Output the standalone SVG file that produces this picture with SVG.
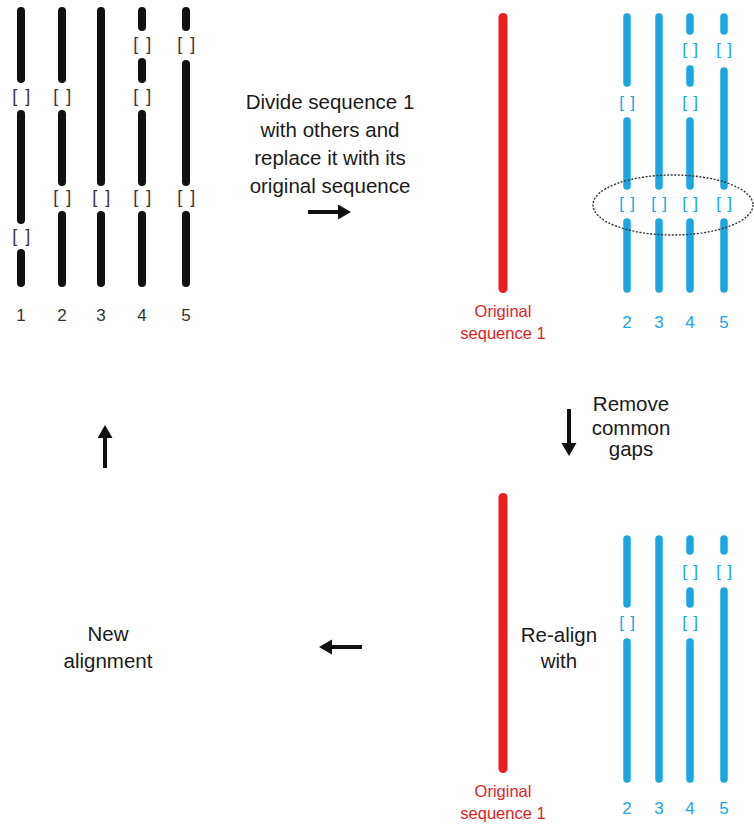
<svg xmlns="http://www.w3.org/2000/svg" width="754" height="828" viewBox="0 0 754 828">
  <style>
    .blk { stroke: #111; stroke-width: 8; stroke-linecap: round; fill: none; }
    .blu { stroke: #1ba6e1; stroke-width: 7.5; stroke-linecap: round; fill: none; }
    .red { stroke: #ee1c1c; stroke-width: 9; stroke-linecap: round; fill: none; }
    .gapk { font-family: "Liberation Sans", Arial, sans-serif; font-size: 18px; fill: #3a3a3a; text-anchor: middle; letter-spacing: 1.5px; }
    .gapb { font-family: "Liberation Sans", Arial, sans-serif; font-size: 17px; fill: #1ba6e1; text-anchor: middle; letter-spacing: 0.8px; }
    .numk { font-family: "Liberation Sans", Arial, sans-serif; font-size: 17px; fill: #333; text-anchor: middle; }
    .numb { font-family: "Liberation Sans", Arial, sans-serif; font-size: 17px; fill: #1ba6e1; text-anchor: middle; }
    .redt { font-family: "Liberation Sans", Arial, sans-serif; font-size: 16.5px; fill: #e41e1e; text-anchor: middle; }
    .lbl { font-family: "Liberation Sans", Arial, sans-serif; font-size: 20.5px; fill: #1a1a1a; text-anchor: middle; }
    .arr { stroke: #111; stroke-width: 4; fill: none; marker-end: url(#head); }
  </style>
  <defs>
    <marker id="head" markerUnits="userSpaceOnUse" markerWidth="14" markerHeight="16" refX="0" refY="7.5" orient="auto">
      <path d="M0,0 L13,7.5 L0,15 Z" fill="#111"/>
    </marker>
  </defs>
  <rect width="754" height="828" fill="#fff"/>

  <!-- initial alignment: five black sequences with gaps -->
  <g id="alignment-initial">
    <line class="blk" x1="21" y1="11" x2="21" y2="79"/>
    <line class="blk" x1="21" y1="114" x2="21" y2="220"/>
    <line class="blk" x1="21" y1="253" x2="21" y2="283"/>
    <text class="gapk" x="22" y="102">[ ]</text>
    <text class="gapk" x="22" y="242">[ ]</text>

    <line class="blk" x1="62" y1="11" x2="62" y2="79"/>
    <line class="blk" x1="62" y1="114" x2="62" y2="182"/>
    <line class="blk" x1="62" y1="215" x2="62" y2="283"/>
    <text class="gapk" x="63" y="102">[ ]</text>
    <text class="gapk" x="63" y="203">[ ]</text>

    <line class="blk" x1="101" y1="11" x2="101" y2="182"/>
    <line class="blk" x1="101" y1="215" x2="101" y2="283"/>
    <text class="gapk" x="102" y="203">[ ]</text>

    <line class="blk" x1="142" y1="11" x2="142" y2="27"/>
    <line class="blk" x1="142" y1="62" x2="142" y2="79"/>
    <line class="blk" x1="142" y1="114" x2="142" y2="182"/>
    <line class="blk" x1="142" y1="215" x2="142" y2="283"/>
    <text class="gapk" x="143" y="50">[ ]</text>
    <text class="gapk" x="143" y="102">[ ]</text>
    <text class="gapk" x="143" y="203">[ ]</text>

    <line class="blk" x1="186" y1="11" x2="186" y2="27"/>
    <line class="blk" x1="186" y1="64" x2="186" y2="182"/>
    <line class="blk" x1="186" y1="215" x2="186" y2="283"/>
    <text class="gapk" x="187" y="50">[ ]</text>
    <text class="gapk" x="187" y="203">[ ]</text>

    <text class="numk" x="21" y="321">1</text>
    <text class="numk" x="62" y="321">2</text>
    <text class="numk" x="101" y="321">3</text>
    <text class="numk" x="142" y="321">4</text>
    <text class="numk" x="186" y="321">5</text>
  </g>

  <!-- step 1 label -->
  <g id="label-divide">
    <text class="lbl" x="330" y="109">Divide sequence 1</text>
    <text class="lbl" x="330" y="137">with others and</text>
    <text class="lbl" x="330" y="165">replace it with its</text>
    <text class="lbl" x="330" y="193">original sequence</text>
  </g>

  <!-- divided alignment: original sequence 1 plus sequences 2-5 -->
  <g id="alignment-divided">
    <line class="red" x1="503" y1="17.5" x2="503" y2="288.5"/>
    <text class="redt" x="503" y="317">Original</text>
    <text class="redt" x="503" y="339">sequence 1</text>

    <line class="blu" x1="627" y1="17" x2="627" y2="83"/>
    <line class="blu" x1="627" y1="121" x2="627" y2="186"/>
    <line class="blu" x1="627" y1="222" x2="627" y2="289"/>
    <text class="gapb" x="627.5" y="108">[ ]</text>
    <text class="gapb" x="627.5" y="209">[ ]</text>

    <line class="blu" x1="659" y1="17" x2="659" y2="186"/>
    <line class="blu" x1="659" y1="222" x2="659" y2="289"/>
    <text class="gapb" x="659.5" y="209">[ ]</text>

    <line class="blu" x1="690" y1="17" x2="690" y2="31"/>
    <line class="blu" x1="690" y1="69" x2="690" y2="83"/>
    <line class="blu" x1="690" y1="121" x2="690" y2="186"/>
    <line class="blu" x1="690" y1="222" x2="690" y2="289"/>
    <text class="gapb" x="690.5" y="55">[ ]</text>
    <text class="gapb" x="690.5" y="108">[ ]</text>
    <text class="gapb" x="690.5" y="209">[ ]</text>

    <line class="blu" x1="724" y1="17" x2="724" y2="31"/>
    <line class="blu" x1="724" y1="71" x2="724" y2="186"/>
    <line class="blu" x1="724" y1="222" x2="724" y2="289"/>
    <text class="gapb" x="724.5" y="55">[ ]</text>
    <text class="gapb" x="724.5" y="209">[ ]</text>

    <!-- common gap column -->
    <ellipse cx="673" cy="205" rx="80" ry="30" fill="none" stroke="#333" stroke-width="1.4" stroke-dasharray="2 1.6"/>

    <text class="numb" x="627" y="328">2</text>
    <text class="numb" x="659" y="328">3</text>
    <text class="numb" x="690" y="328">4</text>
    <text class="numb" x="724" y="328">5</text>
  </g>

  <!-- step 2 label -->
  <g id="label-remove">
    <text class="lbl" x="631" y="411">Remove</text>
    <text class="lbl" x="631" y="435">common</text>
    <text class="lbl" x="631" y="456">gaps</text>
  </g>

  <!-- reduced alignment after common gaps are removed -->
  <g id="alignment-reduced">
    <line class="red" x1="503" y1="497.5" x2="503" y2="768.5"/>
    <text class="redt" x="503" y="797">Original</text>
    <text class="redt" x="503" y="819">sequence 1</text>

    <line class="blu" x1="627" y1="539" x2="627" y2="604"/>
    <line class="blu" x1="627" y1="642" x2="627" y2="779"/>
    <text class="gapb" x="627.5" y="628">[ ]</text>

    <line class="blu" x1="659" y1="539" x2="659" y2="779"/>

    <line class="blu" x1="690" y1="539" x2="690" y2="551"/>
    <line class="blu" x1="690" y1="591" x2="690" y2="604"/>
    <line class="blu" x1="690" y1="642" x2="690" y2="779"/>
    <text class="gapb" x="690.5" y="577">[ ]</text>
    <text class="gapb" x="690.5" y="628">[ ]</text>

    <line class="blu" x1="724" y1="539" x2="724" y2="551"/>
    <line class="blu" x1="724" y1="591" x2="724" y2="779"/>
    <text class="gapb" x="724.5" y="577">[ ]</text>

    <text class="numb" x="627" y="814">2</text>
    <text class="numb" x="659" y="814">3</text>
    <text class="numb" x="690" y="814">4</text>
    <text class="numb" x="724" y="814">5</text>
  </g>

  <!-- step 3 label -->
  <g id="label-realign">
    <text class="lbl" x="559" y="642">Re-align</text>
    <text class="lbl" x="559" y="668">with</text>
  </g>

  <!-- result label -->
  <g id="label-new">
    <text class="lbl" x="108" y="641">New</text>
    <text class="lbl" x="108" y="668">alignment</text>
  </g>

  <!-- process arrows -->
  <g id="connectors">
    <line class="arr" x1="308" y1="212" x2="338" y2="212"/>
    <line class="arr" x1="569" y1="409" x2="569" y2="443"/>
    <line class="arr" x1="362" y1="647" x2="332" y2="647"/>
    <line class="arr" x1="105" y1="468" x2="105" y2="438"/>
  </g>
</svg>
